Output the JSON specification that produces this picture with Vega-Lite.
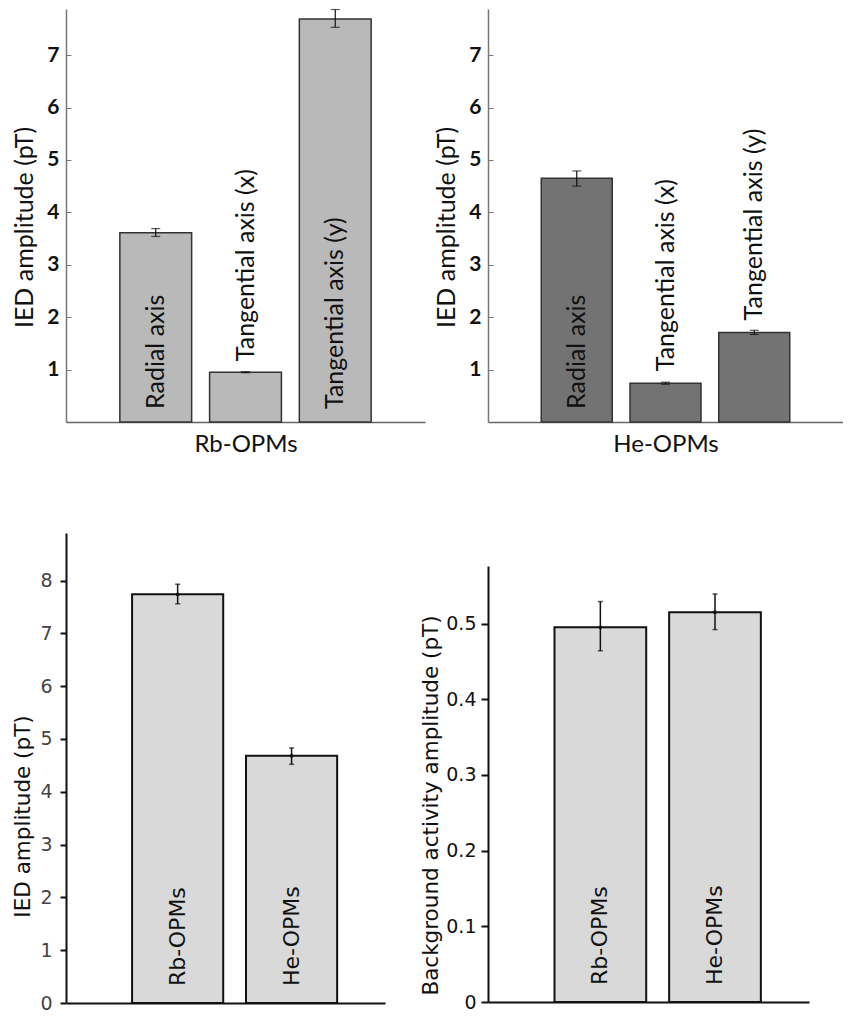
{
  "$schema": "https://vega.github.io/schema/vega-lite/v6.json",
  "background": "white",
  "padding": {"left": 12, "top": 8, "right": 0, "bottom": 0},
  "datasets": {
    "rb_axes": [
      {"axis": "Radial axis", "mean": 3.61, "lo": 3.54, "hi": 3.69},
      {"axis": "Tangential axis (x)", "mean": 0.95, "lo": 0.94, "hi": 0.96},
      {"axis": "Tangential axis (y)", "mean": 7.69, "lo": 7.53, "hi": 7.87}
    ],
    "he_axes": [
      {"axis": "Radial axis", "mean": 4.65, "lo": 4.5, "hi": 4.79},
      {"axis": "Tangential axis (x)", "mean": 0.74, "lo": 0.72, "hi": 0.76},
      {"axis": "Tangential axis (y)", "mean": 1.71, "lo": 1.67, "hi": 1.75}
    ],
    "ied": [
      {"sensor": "Rb-OPMs", "mean": 7.74, "lo": 7.56, "hi": 7.93},
      {"sensor": "He-OPMs", "mean": 4.68, "lo": 4.52, "hi": 4.83}
    ],
    "bg": [
      {"sensor": "Rb-OPMs", "mean": 0.495, "lo": 0.464, "hi": 0.529},
      {"sensor": "He-OPMs", "mean": 0.515, "lo": 0.492, "hi": 0.539}
    ]
  },
  "spacing": -5,
  "hconcat": [
    {
      "spacing": 77,
      "vconcat": [
        {
          "width": 359,
          "height": 413,
          "data": {"name": "rb_axes"},
          "encoding": {
            "x": {
              "field": "axis", "type": "nominal", "sort": null,
              "scale": {"paddingInner": 0.2, "paddingOuter": 0.6},
              "axis": {"labels": false, "ticks": false, "title": "Rb-OPMs", "titleFont": "Lato", "titleFontSize": 24, "titleFontWeight": "normal", "titleColor": "#111", "titlePadding": 10, "domainColor": "#666", "domainWidth": 1.5}
            }
          },
          "layer": [
            {
              "mark": {"type": "bar", "fill": "#b9b9b9", "stroke": "#333", "strokeWidth": 1.5},
              "encoding": {
                "y": {
                  "field": "mean", "type": "quantitative",
                  "scale": {"domain": [0, 7.88], "nice": false},
                  "axis": {"title": "IED amplitude  (pT)", "titleY": 218, "values": [1, 2, 3, 4, 5, 6, 7], "titleFont": "Lato", "titleFontSize": 25, "titleFontWeight": "normal", "titleColor": "#111", "titlePadding": 9, "labelFont": "Lato", "labelFontSize": 21, "labelFontWeight": "bold", "labelColor": "#111", "labelPadding": 12, "tickSize": -5, "tickColor": "#777", "domainColor": "#777", "domainWidth": 1.5, "minExtent": 20, "maxExtent": 20}
                }
              }
            },
            {
              "mark": {"type": "rule", "color": "#111", "strokeWidth": 1.2},
              "encoding": {"y": {"field": "lo", "type": "quantitative"}, "y2": {"field": "hi"}}
            },
            {
              "mark": {"type": "tick", "color": "#111", "size": 9, "thickness": 1.2},
              "encoding": {"y": {"field": "lo", "type": "quantitative"}}
            },
            {
              "mark": {"type": "tick", "color": "#111", "size": 9, "thickness": 1.2},
              "encoding": {"y": {"field": "hi", "type": "quantitative"}}
            },
            {
              "transform": [{"filter": "datum.mean > 2"}],
              "mark": {"type": "text", "angle": 270, "align": "left", "baseline": "middle", "dx": 13, "font": "Lato", "fontSize": 25, "color": "#111"},
              "encoding": {"y": {"datum": 0}, "text": {"field": "axis"}}
            },
            {
              "transform": [{"filter": "datum.mean <= 2"}],
              "mark": {"type": "text", "angle": 270, "align": "left", "baseline": "middle", "dx": 11, "font": "Lato", "fontSize": 25, "color": "#111"},
              "encoding": {"y": {"field": "mean", "type": "quantitative"}, "text": {"field": "axis"}}
            }
          ]
        },
        {
          "width": 319,
          "height": 470,
          "data": {"name": "ied"},
          "encoding": {
            "x": {
              "field": "sensor", "type": "nominal", "sort": null,
              "scale": {"paddingInner": 0.2, "paddingOuter": 0.5, "align": 0.58},
              "axis": {"labels": false, "ticks": false, "title": null, "domainColor": "#111", "domainWidth": 2}
            }
          },
          "layer": [
            {
              "mark": {"type": "bar", "fill": "#d9d9d9", "stroke": "#111", "strokeWidth": 2},
              "encoding": {
                "y": {
                  "field": "mean", "type": "quantitative",
                  "scale": {"domain": [0, 8.9], "nice": false},
                  "axis": {"title": "IED amplitude (pT)", "titleY": 283, "values": [0, 1, 2, 3, 4, 5, 6, 7, 8], "titleFont": "DejaVu Sans", "titleFontSize": 21.5, "titleFontWeight": "normal", "titleColor": "#111", "titlePadding": 6, "labelFont": "DejaVu Sans", "labelFontSize": 19, "labelColor": "#444", "labelPadding": 8, "tickSize": 6, "tickColor": "#111", "tickWidth": 2, "domainColor": "#111", "domainWidth": 2, "minExtent": 26, "maxExtent": 26}
                }
              }
            },
            {
              "mark": {"type": "rule", "color": "#111", "strokeWidth": 1.5},
              "encoding": {"y": {"field": "lo", "type": "quantitative"}, "y2": {"field": "hi"}}
            },
            {
              "mark": {"type": "tick", "color": "#111", "size": 5, "thickness": 1.5},
              "encoding": {"y": {"field": "lo", "type": "quantitative"}}
            },
            {
              "mark": {"type": "tick", "color": "#111", "size": 5, "thickness": 1.5},
              "encoding": {"y": {"field": "hi", "type": "quantitative"}}
            },
            {
              "mark": {"type": "point", "filled": true, "color": "#111", "size": 14, "opacity": 1},
              "encoding": {"y": {"field": "mean", "type": "quantitative"}}
            },
            {
              "mark": {"type": "text", "angle": 270, "align": "left", "baseline": "middle", "dx": 17, "font": "DejaVu Sans", "fontSize": 22, "color": "#111"},
              "encoding": {"y": {"datum": 0}, "text": {"field": "sensor"}}
            }
          ]
        }
      ]
    },
    {
      "spacing": 110,
      "vconcat": [
        {
          "width": 355,
          "height": 413,
          "data": {"name": "he_axes"},
          "encoding": {
            "x": {
              "field": "axis", "type": "nominal", "sort": null,
              "scale": {"paddingInner": 0.2, "paddingOuter": 0.6},
              "axis": {"labels": false, "ticks": false, "title": "He-OPMs", "titleFont": "Lato", "titleFontSize": 24, "titleFontWeight": "normal", "titleColor": "#111", "titlePadding": 10, "domainColor": "#666", "domainWidth": 1.5}
            }
          },
          "layer": [
            {
              "mark": {"type": "bar", "fill": "#737373", "stroke": "#333", "strokeWidth": 1.5},
              "encoding": {
                "y": {
                  "field": "mean", "type": "quantitative",
                  "scale": {"domain": [0, 7.88], "nice": false},
                  "axis": {"title": "IED amplitude  (pT)", "titleY": 218, "values": [1, 2, 3, 4, 5, 6, 7], "titleFont": "Lato", "titleFontSize": 25, "titleFontWeight": "normal", "titleColor": "#111", "titlePadding": 9, "labelFont": "Lato", "labelFontSize": 21, "labelFontWeight": "bold", "labelColor": "#111", "labelPadding": 12, "tickSize": -5, "tickColor": "#777", "domainColor": "#777", "domainWidth": 1.5, "minExtent": 20, "maxExtent": 20}
                }
              }
            },
            {
              "mark": {"type": "rule", "color": "#111", "strokeWidth": 1.2},
              "encoding": {"y": {"field": "lo", "type": "quantitative"}, "y2": {"field": "hi"}}
            },
            {
              "mark": {"type": "tick", "color": "#111", "size": 9, "thickness": 1.2},
              "encoding": {"y": {"field": "lo", "type": "quantitative"}}
            },
            {
              "mark": {"type": "tick", "color": "#111", "size": 9, "thickness": 1.2},
              "encoding": {"y": {"field": "hi", "type": "quantitative"}}
            },
            {
              "transform": [{"filter": "datum.mean > 2"}],
              "mark": {"type": "text", "angle": 270, "align": "left", "baseline": "middle", "dx": 13, "font": "Lato", "fontSize": 25, "color": "#111"},
              "encoding": {"y": {"datum": 0}, "text": {"field": "axis"}}
            },
            {
              "transform": [{"filter": "datum.mean <= 2"}],
              "mark": {"type": "text", "angle": 270, "align": "left", "baseline": "middle", "dx": 12, "font": "Lato", "fontSize": 25, "color": "#111"},
              "encoding": {"y": {"field": "mean", "type": "quantitative"}, "text": {"field": "axis"}}
            }
          ]
        },
        {
          "width": 321,
          "height": 436,
          "data": {"name": "bg"},
          "encoding": {
            "x": {
              "field": "sensor", "type": "nominal", "sort": null,
              "scale": {"paddingInner": 0.2, "paddingOuter": 0.5, "align": 0.58},
              "axis": {"labels": false, "ticks": false, "title": null, "domainColor": "#111", "domainWidth": 2}
            }
          },
          "layer": [
            {
              "mark": {"type": "bar", "fill": "#d9d9d9", "stroke": "#111", "strokeWidth": 2},
              "encoding": {
                "y": {
                  "field": "mean", "type": "quantitative",
                  "scale": {"domain": [0, 0.576], "nice": false},
                  "axis": {"title": "Background activity amplitude (pT)", "titleY": 239, "values": [0, 0.1, 0.2, 0.3, 0.4, 0.5], "labelExpr": "datum.value == 0 ? '0' : format(datum.value, '.1f')", "titleFont": "DejaVu Sans", "titleFontSize": 21.5, "titleFontWeight": "normal", "titleColor": "#111", "titlePadding": 6, "labelFont": "DejaVu Sans", "labelFontSize": 19, "labelColor": "#111", "labelPadding": 5, "tickSize": 7, "tickColor": "#111", "tickWidth": 2, "domainColor": "#111", "domainWidth": 2, "minExtent": 40, "maxExtent": 40}
                }
              }
            },
            {
              "mark": {"type": "rule", "color": "#111", "strokeWidth": 1.5},
              "encoding": {"y": {"field": "lo", "type": "quantitative"}, "y2": {"field": "hi"}}
            },
            {
              "mark": {"type": "tick", "color": "#111", "size": 5, "thickness": 1.5},
              "encoding": {"y": {"field": "lo", "type": "quantitative"}}
            },
            {
              "mark": {"type": "tick", "color": "#111", "size": 5, "thickness": 1.5},
              "encoding": {"y": {"field": "hi", "type": "quantitative"}}
            },
            {
              "mark": {"type": "point", "filled": true, "color": "#111", "size": 14, "opacity": 1},
              "encoding": {"y": {"field": "mean", "type": "quantitative"}}
            },
            {
              "mark": {"type": "text", "angle": 270, "align": "left", "baseline": "middle", "dx": 17, "font": "DejaVu Sans", "fontSize": 22, "color": "#111"},
              "encoding": {"y": {"datum": 0}, "text": {"field": "sensor"}}
            }
          ]
        }
      ]
    }
  ],
  "config": {
    "view": {"stroke": null},
    "axis": {"grid": false}
  }
}
